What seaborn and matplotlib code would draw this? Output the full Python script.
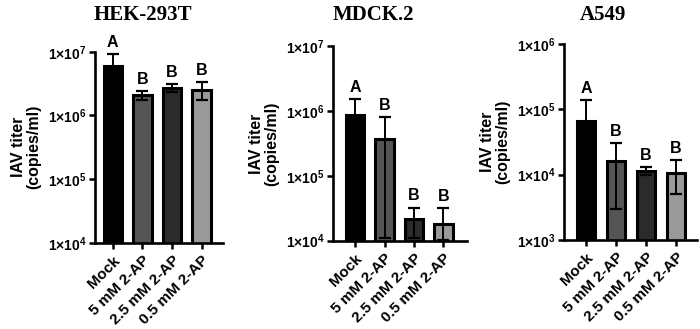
import numpy as np
import pandas as pd
import matplotlib
matplotlib.use("Agg")
import matplotlib.pyplot as plt
import seaborn as sns

# group names and bar colours
groups = ["Mock", "5 mM 2-AP", "2.5 mM 2-AP", "0.5 mM 2-AP"]
colors = ["#000000", "#555555", "#2b2b2b", "#9a9a9a"]

# titers (copies/ml)
hek_mean = [5.97e6, 2.09e6, 2.68e6, 2.50e6]
hek_upper = [9.2e6, 2.41e6, 3.10e6, 3.35e6]
hek_lower = [3.9e6, 1.74e6, 2.30e6, 1.74e6]
hek_letters = ["A", "B", "B", "B"]

mdck_mean = [8.55e5, 3.69e5, 2.14e4, 1.81e4]
mdck_upper = [1.50e6, 8.07e5, 3.24e4, 3.17e4]
mdck_lower = [4.9e5, 1.1e4, 1.09e4, 1.03e4]
mdck_letters = ["A", "B", "B", "B"]

a549_mean = [6.7e4, 1.64e4, 1.13e4, 1.06e4]
a549_upper = [1.38e5, 3.03e4, 1.31e4, 1.66e4]
a549_lower = [3.0e4, 2.97e3, 9.8e3, 5.1e3]
a549_letters = ["A", "B", "B", "B"]

panels = [
    ("HEK-293T", hek_mean, hek_upper, hek_lower, hek_letters, (4, 7)),
    ("MDCK.2", mdck_mean, mdck_upper, mdck_lower, mdck_letters, (4, 7)),
    ("A549", a549_mean, a549_upper, a549_lower, a549_letters, (3, 6)),
]

sns.set_theme(style="ticks")
plt.rcParams["font.family"] = ["Liberation Sans", "DejaVu Sans"]
plt.rcParams["font.weight"] = "bold"
plt.rcParams["text.color"] = "black"
plt.rcParams["axes.labelcolor"] = "black"
plt.rcParams["xtick.color"] = "black"
plt.rcParams["ytick.color"] = "black"
plt.rcParams["mathtext.fontset"] = "custom"
plt.rcParams["mathtext.rm"] = "Liberation Sans:bold"
plt.rcParams["mathtext.bf"] = "Liberation Sans:bold"
plt.rcParams["mathtext.default"] = "bf"

fig = plt.figure(figsize=(7, 3.29), dpi=100)
# axes boxes [left, bottom, width, height]
boxes = [
    [0.1357, 0.2623, 0.1829, 0.5805],
    [0.4757, 0.2684, 0.1914, 0.5918],
    [0.8057, 0.2705, 0.1900, 0.5957],
]
title_x = [0.2036, 0.5329, 0.8614]
xlims = [(-0.6, 3.72), (-0.75, 3.8), (-0.73, 3.7)]

for i, (title, mean, upper, lower, letters, (lo, hi)) in enumerate(panels):
    ax = fig.add_axes(boxes[i])
    ax.set_yscale("log")
    df = pd.DataFrame({"group": groups, "titer": mean})
    sns.barplot(data=df, x="group", y="titer", hue="group", palette=colors,
                legend=False, width=0.62, edgecolor="black", linewidth=2.2,
                ax=ax, zorder=2)
    m = np.array(mean)
    err = np.vstack([m - np.array(lower), np.array(upper) - m])
    ax.errorbar(np.arange(len(groups)), m, yerr=err, fmt="none",
                ecolor="black", elinewidth=1.4, capsize=4, capthick=1.6,
                zorder=3, clip_on=True)
    for j, t in enumerate(letters):
        ax.annotate(t, (j, upper[j]), xytext=(0, 3), textcoords="offset points",
                    ha="center", va="bottom", fontsize=11.5, fontweight="bold")
    ax.set_ylim(10 ** lo, 10 ** hi)
    ax.set_xlim(*xlims[i])
    ax.set_yticks([10 ** e for e in range(lo, hi + 1)])
    ax.set_yticklabels([f"$1×10^{{{e}}}$" for e in range(lo, hi + 1)])
    ax.yaxis.set_minor_locator(matplotlib.ticker.NullLocator())
    ax.set_xticks(range(len(groups)))
    ax.set_xticklabels(groups, rotation=45, ha="right", rotation_mode="anchor",
                       fontsize=11, fontweight="bold")
    ax.tick_params(axis="both", width=1.8, length=4.5, color="black")
    ax.tick_params(axis="y", labelsize=10, pad=1.5)
    ax.tick_params(axis="x", pad=3)
    for s in ["left", "bottom"]:
        ax.spines[s].set_linewidth(1.9)
        ax.spines[s].set_color("black")
    sns.despine(ax=ax)
    ax.set_xlabel("")
    ax.set_ylabel("IAV titer\n(copies/ml)", fontsize=11.5, fontweight="bold",
                  linespacing=1.0, labelpad=5)
    fig.text(title_x[i], 0.955, title, ha="center", va="center", fontsize=15,
             fontweight="bold", family=["Liberation Serif", "DejaVu Serif"])

fig.savefig("out.png", dpi=100)
